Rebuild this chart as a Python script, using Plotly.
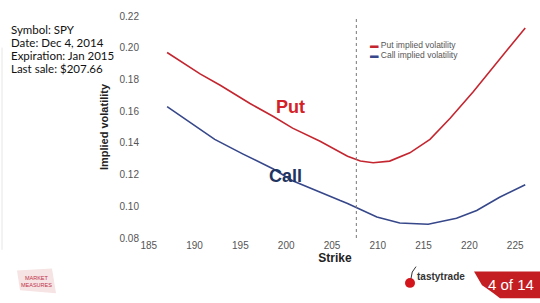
import plotly.graph_objects as go

# ---- data ----
put_strike = [187.0, 190.6, 192.8, 196.05, 198.6, 200.7, 203.7, 206.7, 208.1, 209.5,
              211.3, 213.5, 215.7, 217.9, 220.4, 223.3, 226.1]
put_iv = [0.1970, 0.1835, 0.1763, 0.1648, 0.1566, 0.1493, 0.1410, 0.1316, 0.1285, 0.1275,
          0.1285, 0.1337, 0.1422, 0.1555, 0.1721, 0.1928, 0.2125]
call_strike = [187.0, 189.8, 192.2, 195.3, 198.6, 200.7, 203.7, 205.9, 206.7, 207.8,
               209.9, 212.4, 215.5, 218.6, 220.8, 223.3, 226.1]
call_iv = [0.1628, 0.1516, 0.1422, 0.1329, 0.1235, 0.1161, 0.1086, 0.1036, 0.1018, 0.0987,
           0.0932, 0.0895, 0.0887, 0.0924, 0.0974, 0.1057, 0.1136]
x_ticks = [185, 190, 195, 200, 205, 210, 215, 220, 225]
y_ticks = [0.08, 0.10, 0.12, 0.14, 0.16, 0.18, 0.20, 0.22]
last_sale = 207.66
info_lines = ["Symbol: SPY", "Date: Dec 4, 2014", "Expiration: Jan 2015", "Last sale: $207.66"]

W, H = 540, 303
L, R, T, B = 140, 10, 13, 65
PW, PH = W - L - R, H - T - B

def px(x):
    return (x - L) / PW

def py(y):
    return (H - B - y) / PH

PUT_C = "#c42630"
CALL_C = "#36478a"
FONT = "Liberation Sans, Arial, sans-serif"

fig = go.Figure()
fig.add_trace(go.Scatter(x=put_strike, y=put_iv, mode="lines", name="Put implied volatility",
                         line=dict(color=PUT_C, width=1.6)))
fig.add_trace(go.Scatter(x=call_strike, y=call_iv, mode="lines", name="Call implied volatility",
                         line=dict(color=CALL_C, width=1.6)))

fig.add_vline(x=last_sale, line=dict(color="#777", width=1, dash="dot"))

ann = []
# info box
for i, t in enumerate(info_lines):
    ann.append(dict(x=px(9), y=py(27 + 13 * i), xref="paper", yref="paper",
                    text=t, showarrow=False, xanchor="left", yanchor="middle",
                    font=dict(family="Lato, Carlito, sans-serif", size=11.5, color="#111")))
# legend (manual, short swatches)
for i, (name, c) in enumerate([("Put implied volatility", PUT_C), ("Call implied volatility", CALL_C)]):
    ann.append(dict(x=px(368), y=py(42.3 + 10 * i), xref="paper", yref="paper",
                    text=f'<span style="color:{c}">▬</span> {name}', showarrow=False,
                    xanchor="left", yanchor="middle",
                    font=dict(family=FONT, size=8.5, color="#555")))
# series labels
ann.append(dict(x=px(290), y=py(105), xref="paper", yref="paper", text="<b>Put</b>",
                showarrow=False, font=dict(family=FONT, size=18, color="#d42027")))
ann.append(dict(x=px(267), y=py(187), xref="paper", yref="paper", text="<b>Call</b>",
                showarrow=False, font=dict(family=FONT, size=18, color="#1f3560")))
# footer
ann.append(dict(x=px(415), y=py(277), xref="paper", yref="paper", text="<b>tastytrade</b>",
                showarrow=False, xanchor="left", yanchor="middle",
                font=dict(family=FONT, size=10, color="#333")))
ann.append(dict(x=px(511), y=py(285), xref="paper", yref="paper", text="4 of 14",
                showarrow=False, xanchor="center", yanchor="middle",
                font=dict(family=FONT, size=15, color="white")))
ann.append(dict(x=px(36), y=py(282), xref="paper", yref="paper",
                text="MARKET<br>MEASURES", showarrow=False, xanchor="center", yanchor="middle",
                font=dict(family=FONT, size=5.5, color="#c0304a")))

shapes = [
    dict(type="line", xref="paper", yref="paper", x0=px(0), x1=px(W), y0=py(264.3), y1=py(264.3),
         line=dict(color="#cfcfcf", width=1.2)),
    dict(type="line", xref="paper", yref="paper", x0=px(2), x1=px(2), y0=py(45), y1=py(250),
         line=dict(color="#e6e6e6", width=1)),
    dict(type="path", xref="paper", yref="paper",
         path=f"M {px(474)},{py(272)} L {px(540)},{py(272)} L {px(540)},{py(299)} "
              f"L {px(500)},{py(299)} Q {px(488)},{py(290)} {px(482)},{py(286)} Z",
         fillcolor="#c41e22", line=dict(width=0)),
    dict(type="circle", xref="paper", yref="paper", x0=px(405), x1=px(415), y0=py(288.5), y1=py(278.5),
         fillcolor="#d3161c", line=dict(width=0)),
    dict(type="path", xref="paper", yref="paper",
         path=f"M {px(411)},{py(279)} Q {px(411)},{py(272)} {px(416)},{py(267)}",
         line=dict(color="#333", width=1)),
    dict(type="path", xref="paper", yref="paper",
         path=f"M {px(17)},{py(271)} L {px(52)},{py(269)} L {px(56)},{py(294)} L {px(20)},{py(291)} Z",
         fillcolor="#f6e3e3", line=dict(width=0)),
]

fig.update_layout(
    width=W, height=H, autosize=False,
    margin=dict(l=L, r=R, t=T, b=B),
    paper_bgcolor="white", plot_bgcolor="white",
    showlegend=False,
    font=dict(family=FONT, color="#555"),
    xaxis=dict(range=[184.04, 226.62],
               tickvals=x_ticks, ticktext=[str(v) for v in x_ticks],
               showgrid=False, zeroline=False, showline=False, ticks="",
               tickfont=dict(size=10, color="#555"),
               title=dict(text="<b>Strike</b>", font=dict(size=12, color="#222"), standoff=2)),
    yaxis=dict(range=[0.08, 0.22], tickvals=y_ticks, ticktext=[f"{v:.2f}" for v in y_ticks],
               showgrid=False, zeroline=False, showline=False, ticks="",
               tickfont=dict(size=10, color="#555"),
               title=dict(text="<b>Implied volatility</b>", font=dict(size=11, color="#222"), standoff=8)),
    annotations=ann,
    shapes=shapes,
)

fig.write_html("out.html")
